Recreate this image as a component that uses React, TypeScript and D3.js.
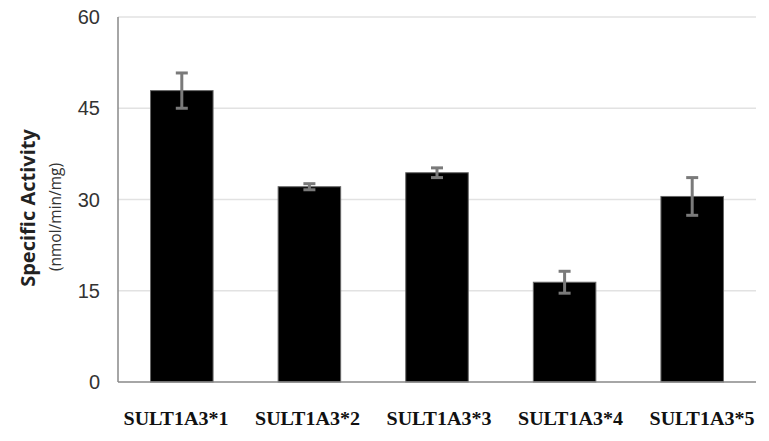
import React from "react";
import * as d3 from "d3";

const categories = ["SULT1A3*1", "SULT1A3*2", "SULT1A3*3", "SULT1A3*4", "SULT1A3*5"];
const activity = [47.9, 32.1, 34.4, 16.4, 30.5];
const errors = [2.9, 0.5, 0.8, 1.8, 3.1];
const yTicks = [0, 15, 30, 45, 60];

const W = 769;
const H = 441;
const margin = { top: 17, right: 13, bottom: 59, left: 118 };

const App = () => {
    const innerW = W - margin.left - margin.right;
    const innerH = H - margin.top - margin.bottom;

    const x = d3.scaleBand().domain(categories).range([0, innerW]).paddingInner(0.51).paddingOuter(0.255);
    const y = d3.scaleLinear().domain([0, 60]).range([innerH, 0]);
    // category labels were set a little apart from the bars in the original
    const xLabel = d3.scalePoint().domain(categories).range([58, innerW - 54]);

    return (
        <svg width={W} height={H} style={{ position: "absolute", left: 0, top: 0, background: "#fff" }}>
            <g transform={`translate(${margin.left},${margin.top})`}>
                {yTicks.filter(t => t > 0).map(t => (
                    <line key={t} x1={0} x2={innerW} y1={y(t)} y2={y(t)} stroke="#e2e2e2" strokeWidth={1.5} />
                ))}
                {yTicks.map(t => (
                    <text
                        key={t}
                        x={-18}
                        y={y(t)}
                        dy="0.35em"
                        textAnchor="end"
                        fontFamily="Liberation Sans, Arial, sans-serif"
                        fontSize={20}
                        fill="#333"
                    >
                        {t}
                    </text>
                ))}
                {categories.map((c, i) => (
                    <rect
                        key={c}
                        x={x(c)}
                        y={y(activity[i])}
                        width={x.bandwidth()}
                        height={innerH - y(activity[i])}
                        fill="#000"
                        stroke="#666"
                        strokeWidth={1}
                    />
                ))}
                {categories.map((c, i) => {
                    const cx = (x(c) ?? 0) + x.bandwidth() / 2;
                    const y1 = y(activity[i] + errors[i]);
                    const y2 = y(activity[i] - errors[i]);
                    return (
                        <g key={c} stroke="#7a7a7a" strokeWidth={3}>
                            <line x1={cx} x2={cx} y1={y1} y2={y2} />
                            <line x1={cx - 6} x2={cx + 6} y1={y1} y2={y1} />
                            <line x1={cx - 6} x2={cx + 6} y1={y2} y2={y2} />
                        </g>
                    );
                })}
                <line x1={0} x2={0} y1={0} y2={innerH} stroke="#888" strokeWidth={1.5} />
                <line x1={0} x2={innerW} y1={innerH} y2={innerH} stroke="#888" strokeWidth={1.5} />
                {categories.map(c => (
                    <text
                        key={c}
                        x={xLabel(c)}
                        y={innerH + 43}
                        textAnchor="middle"
                        fontFamily="Liberation Serif, Times New Roman, serif"
                        fontWeight="bold"
                        fontSize={18}
                        textLength={105}
                        lengthAdjust="spacingAndGlyphs"
                        fill="#111"
                    >
                        {c}
                    </text>
                ))}
            </g>
            <text
                transform="translate(35,208) rotate(-90)"
                textAnchor="middle"
                fontFamily="Open Sans, sans-serif"
                fontWeight="bold"
                fontSize={20}
                fill="#222"
            >
                Specific Activity
            </text>
            <text
                transform="translate(61,217) rotate(-90)"
                textAnchor="middle"
                fontFamily="Open Sans, sans-serif"
                fontSize={15.5}
                fill="#333"
            >
                (nmol/min/mg)
            </text>
        </svg>
    );
};

export default App;
